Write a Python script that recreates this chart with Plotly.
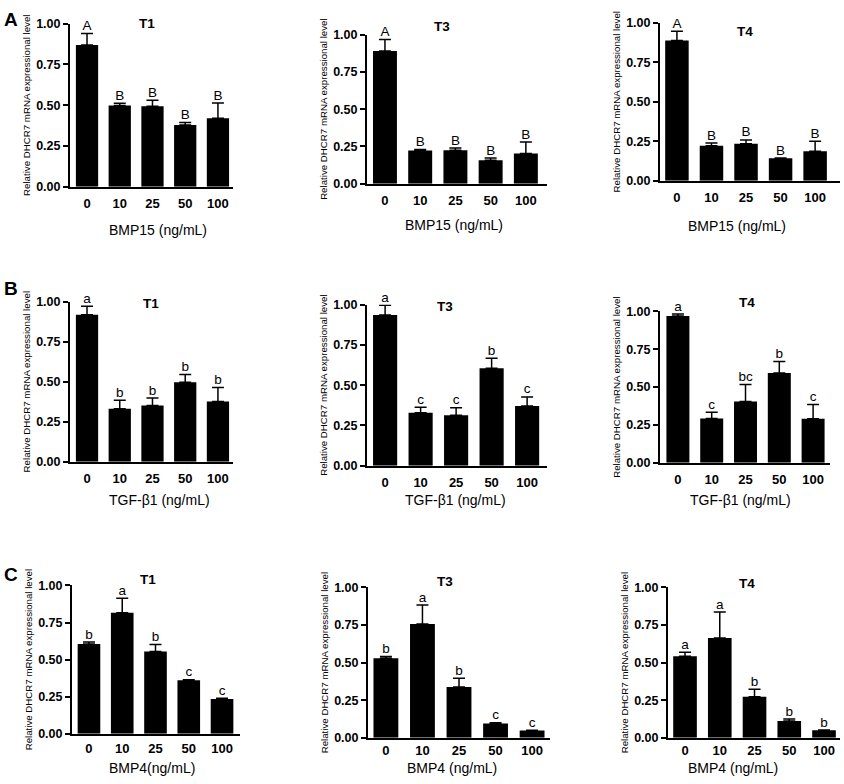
import plotly.graph_objects as go

W, H = 844, 784
FONT = "Arial, Liberation Sans, sans-serif"

categories = ["0", "10", "25", "50", "100"]

# Row A: BMP15
a_t1_mean = [0.870, 0.498, 0.494, 0.378, 0.420]
a_t1_err = [0.070, 0.014, 0.036, 0.016, 0.094]
a_t1_letters = ["A", "B", "B", "B", "B"]
a_t3_mean = [0.890, 0.223, 0.225, 0.158, 0.203]
a_t3_err = [0.077, 0.007, 0.015, 0.015, 0.077]
a_t3_letters = ["A", "B", "B", "B", "B"]
a_t4_mean = [0.888, 0.222, 0.234, 0.143, 0.187]
a_t4_err = [0.058, 0.017, 0.025, 0.002, 0.064]
a_t4_letters = ["A", "B", "B", "B", "B"]

# Row B: TGF-beta1
b_t1_mean = [0.918, 0.331, 0.351, 0.496, 0.376]
b_t1_err = [0.053, 0.053, 0.047, 0.049, 0.087]
b_t1_letters = ["a", "b", "b", "b", "b"]
b_t3_mean = [0.935, 0.329, 0.313, 0.604, 0.370]
b_t3_err = [0.061, 0.033, 0.047, 0.063, 0.057]
b_t3_letters = ["a", "c", "c", "b", "c"]
b_t4_mean = [0.970, 0.292, 0.405, 0.593, 0.290]
b_t4_err = [0.013, 0.041, 0.112, 0.076, 0.095]
b_t4_letters = ["a", "c", "bc", "b", "c"]

# Row C: BMP4
c_t1_mean = [0.606, 0.816, 0.555, 0.361, 0.235]
c_t1_err = [0.013, 0.098, 0.047, 0.004, 0.004]
c_t1_letters = ["b", "a", "b", "c", "c"]
c_t3_mean = [0.529, 0.756, 0.337, 0.095, 0.048]
c_t3_err = [0.011, 0.127, 0.058, 0.004, 0.002]
c_t3_letters = ["b", "a", "b", "c", "c"]
c_t4_mean = [0.542, 0.663, 0.272, 0.112, 0.050]
c_t4_err = [0.026, 0.173, 0.050, 0.013, 0.002]
c_t4_letters = ["a", "a", "b", "b", "b"]

y_tickvals = [0, 0.25, 0.5, 0.75, 1.0]
y_title = "Relative DHCR7 mRNA expressional level"

panels = [
    # title, x title, mean, err, letters, (x0,x1,y0,y1) px, x range, title px, x-title px, tick standoff
    ("T1", "BMP15 (ng/mL)", a_t1_mean, a_t1_err, a_t1_letters, (70, 233, 17, 183), [-0.52, 4.46], (147, 17), (158, 227), 4),
    ("T3", "BMP15 (ng/mL)", a_t3_mean, a_t3_err, a_t3_letters, (367, 547, 28, 180), [-0.51, 4.60], (442, 20), (454, 222), 4),
    ("T4", "BMP15 (ng/mL)", a_t4_mean, a_t4_err, a_t4_letters, (660, 840, 16, 177), [-0.49, 4.72], (745, 25), (737, 223), 4),
    ("T1", "TGF-β1 (ng/mL)", b_t1_mean, b_t1_err, b_t1_letters, (70, 233, 300, 463), [-0.52, 4.46], (151, 302), (159, 502), 4),
    ("T3", "TGF-β1 (ng/mL)", b_t3_mean, b_t3_err, b_t3_letters, (367, 547, 303, 467), [-0.51, 4.56], (445, 305), (455, 502), 4),
    ("T4", "TGF-β1 (ng/mL)", b_t4_mean, b_t4_err, b_t4_letters, (660, 830, 310, 464), [-0.53, 4.50], (747, 301), (740, 502), 4),
    ("T1", "BMP4(ng/mL)", c_t1_mean, c_t1_err, c_t1_letters, (72, 240, 589, 740), [-0.51, 4.54], (148, 583), (152, 775), 2),
    ("T3", "BMP4 (ng/mL)", c_t3_mean, c_t3_err, c_t3_letters, (368, 550, 591, 744), [-0.49, 4.49], (445, 585), (452, 775), 0),
    ("T4", "BMP4 (ng/mL)", c_t4_mean, c_t4_err, c_t4_letters, (668, 840, 591, 744), [-0.49, 4.46], (747, 587), (733, 775), 0),
]

fig = go.Figure()
annotations = []
layout = {}

for i, (title, xtitle, mean, err, letters, box, xr, tpos, xtpos, tstand) in enumerate(panels):
    n = "" if i == 0 else str(i + 1)
    xa, ya = "x" + n, "y" + n
    x0, x1, y0, y1 = box
    fig.add_trace(go.Bar(
        x=categories, y=mean, xaxis=xa, yaxis=ya,
        marker=dict(color="black", line=dict(width=0)),
        error_y=dict(type="data", array=err, arrayminus=[0] * len(err), symmetric=False,
                     color="black", thickness=1.5, width=6),
        showlegend=False, hoverinfo="skip",
    ))
    fig.add_trace(go.Scatter(
        x=categories, y=[m + e for m, e in zip(mean, err)], xaxis=xa, yaxis=ya,
        mode="text", text=letters, textposition="top center",
        textfont=dict(family=FONT, size=13.5, color="black"),
        cliponaxis=False, showlegend=False, hoverinfo="skip",
    ))
    layout["xaxis" + n] = dict(
        domain=[x0 / W, x1 / W], anchor=ya, range=xr, type="category",
        showline=True, linecolor="black", linewidth=2, ticks="",
        tickfont=dict(family=FONT, size=13, color="black", weight="bold"),
        ticklabelstandoff=tstand,
        showgrid=False, zeroline=False, fixedrange=True,
    )
    layout["yaxis" + n] = dict(
        domain=[1 - y1 / H, 1 - y0 / H], anchor=xa, range=[0, 1.0],
        tickvals=y_tickvals, tickformat=".2f",
        showline=True, linecolor="black", linewidth=2,
        ticks="outside", ticklen=5, tickwidth=2, tickcolor="black",
        tickfont=dict(family=FONT, size=12.5, color="black", weight="bold"),
        title=dict(text=y_title, font=dict(family=FONT, size=9.7, color="black"), standoff=4),
        showgrid=False, zeroline=False, fixedrange=True,
    )
    annotations.append(dict(
        text="<b>%s</b>" % title, x=tpos[0] / W, y=1 - tpos[1] / H, xref="paper", yref="paper",
        showarrow=False, xanchor="center", yanchor="middle",
        font=dict(family=FONT, size=13.5, color="black"),
    ))
    annotations.append(dict(
        text=xtitle, x=xtpos[0] / W, y=1 - xtpos[1] / H, xref="paper", yref="paper",
        showarrow=False, xanchor="center", yanchor="middle",
        font=dict(family=FONT, size=14, color="black"),
    ))

for lab, ypx in [("A", 13), ("B", 287), ("C", 578)]:
    annotations.append(dict(
        text="<b>%s</b>" % lab, x=11 / W, y=1 - ypx / H, xref="paper", yref="paper",
        showarrow=False, xanchor="center", yanchor="middle",
        font=dict(family=FONT, size=19, color="black"),
    ))

fig.update_layout(
    width=W, height=H, margin=dict(l=0, r=0, t=0, b=0),
    paper_bgcolor="white", plot_bgcolor="white",
    bargap=0.32, annotations=annotations, **layout,
)

fig.write_html(
    "out.html",
    config={"displayModeBar": False},
    post_script="document.body.style.margin='0';document.body.style.padding='0';document.body.style.overflow='hidden';",
)
